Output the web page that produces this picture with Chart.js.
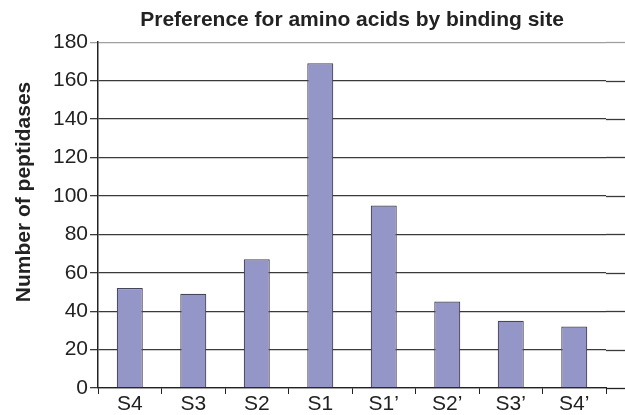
<!DOCTYPE html>
<html lang="en">
<head>
    <meta charset="UTF-8">
    <title>Preference for amino acids by binding site</title>
    <script src="https://cdn.jsdelivr.net/npm/chart.js"></script>
    <style>
        body {
            margin: 0;
            background: #ffffff;
            overflow: hidden;
        }

        .chart-box {
            width: 625px;
            height: 415px;
        }
    </style>
</head>
<body>
    <div class="chart-box">
        <canvas id="barChart"></canvas>
    </div>

    <script>
        const sites = ["S4", "S3", "S2", "S1", "S1\u2019", "S2\u2019", "S3\u2019", "S4\u2019"];
        const peptidases = [52, 49, 67, 169, 95, 45, 35, 32];
        const yTicks = [0, 20, 40, 60, 80, 100, 120, 140, 160, 180];

        const fontFamily = "'Liberation Sans', Arial, Helvetica, sans-serif";

        // y title is drawn by hand so it can sit a bit above the axis middle, like the original
        const yTitlePlugin = {
            id: 'yTitle',
            afterDraw(chart) {
                const ctx = chart.ctx;
                ctx.save();
                ctx.translate(24, 192);
                ctx.rotate(-Math.PI / 2);
                ctx.font = "bold 21px " + fontFamily;
                ctx.fillStyle = '#222';
                ctx.textAlign = 'center';
                ctx.textBaseline = 'middle';
                ctx.fillText('Number of peptidases', 0, 0);
                ctx.restore();
            }
        };

        // gridlines run on past the plot area to the page edge
        const gridRunOn = {
            id: 'gridRunOn',
            beforeDatasetsDraw(chart) {
                const ctx = chart.ctx;
                const y = chart.scales.y;
                ctx.save();
                y.ticks.forEach(t => {
                    const py = Math.round(y.getPixelForValue(t.value)) + 0.5;
                    ctx.strokeStyle = t.value === 180 ? '#a0a0a0' : (t.value === 0 ? '#222' : '#3a3a3a');
                    ctx.lineWidth = 1.3;
                    ctx.beginPath();
                    ctx.moveTo(chart.chartArea.right, py);
                    ctx.lineTo(chart.width, py);
                    ctx.stroke();
                });
                ctx.restore();
            }
        };

        new Chart(document.getElementById('barChart'), {
            type: 'bar',
            data: {
                labels: sites,
                datasets: [{
                    label: 'Number of peptidases',
                    data: peptidases,
                    backgroundColor: '#9596c8',
                    borderColor: '#46465a',
                    borderWidth: 1.2,
                    categoryPercentage: 1,
                    barPercentage: 0.41
                }]
            },
            options: {
                responsive: true,
                maintainAspectRatio: false,
                animation: false,
                layout: {
                    padding: { left: 51, right: 19, top: 0, bottom: 0 }
                },
                plugins: {
                    legend: { display: false },
                    tooltip: { enabled: false },
                    title: {
                        display: true,
                        fullSize: false,
                        text: 'Preference for amino acids by binding site',
                        color: '#222',
                        font: { family: fontFamily, size: 21, weight: 'bold', lineHeight: 1.2 },
                        padding: { top: 8, bottom: 9 }
                    }
                },
                scales: {
                    x: {
                        grid: {
                            offset: true,
                            drawOnChartArea: false,
                            drawTicks: true,
                            tickLength: 6,
                            color: '#222'
                        },
                        border: { color: '#222', width: 1.3 },
                        ticks: {
                            color: '#222',
                            padding: 0,
                            font: { family: fontFamily, size: 21, lineHeight: 1 }
                        }
                    },
                    y: {
                        min: 0,
                        max: 180,
                        afterBuildTicks(scale) {
                            scale.ticks = yTicks.map(v => ({ value: v }));
                        },
                        grid: {
                            color: ctx => ctx.tick && ctx.tick.value === 180 ? '#a0a0a0' : '#3a3a3a',
                            lineWidth: 1.3,
                            tickLength: 8
                        },
                        border: { color: '#222', width: 1.5 },
                        ticks: {
                            color: '#222',
                            padding: 2,
                            font: { family: fontFamily, size: 21 }
                        }
                    }
                }
            },
            plugins: [gridRunOn, yTitlePlugin]
        });
    </script>
</body>
</html>
